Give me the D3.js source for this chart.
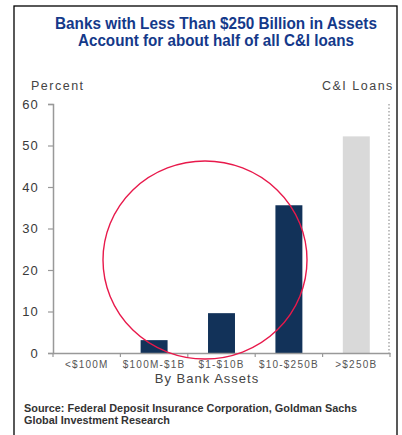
<html>
<script src="https://d3js.org/d3.v7.min.js"></script>
<style>
  body { margin: 0; background: white; }
  text { font-family: "Liberation Sans", Arial, sans-serif; }
</style>
<body>
<svg id="chart" width="402" height="435"></svg>
<script>
// chart data
var categories = ['<$100M', '$100M-$1B', '$1-$10B', '$10-$250B', '>$250B'];
var shares = [0, 3.1, 9.6, 35.6, 52.2];
var yTicks = [0, 10, 20, 30, 40, 50, 60];
var titleLines = ['Banks with Less Than $250 Billion in Assets', 'Account for about half of all C&I loans'];
var sourceLines = ['Source: Federal Deposit Insurance Corporation, Goldman Sachs', 'Global Investment Research'];

var svg = d3.select('#chart');

// clip everything to the inside of the frame
svg.append('clipPath').attr('id', 'frameclip')
  .append('rect').attr('x', 14).attr('y', 6).attr('width', 382).attr('height', 440);

// outer frame
svg.append('rect')
  .attr('x', 14).attr('y', 6)
  .attr('width', 383).attr('height', 440)
  .attr('fill', 'none').attr('stroke', 'black').attr('stroke-width', 1.3);

// title (condensed to the reference's width)
svg.selectAll('.title').data(titleLines).enter().append('text')
  .attr('class', 'title')
  .attr('x', 216).attr('y', function(d, i) { return 29 + i * 17; })
  .attr('text-anchor', 'middle')
  .attr('font-size', '16.5px').attr('font-weight', 'bold')
  .attr('fill', '#14398a')
  .attr('textLength', function(d, i) { return i == 0 ? 322 : 276; })
  .attr('lengthAdjust', 'spacingAndGlyphs')
  .text(function(d) { return d; });

// scales
var x = d3.scaleBand().domain(categories).range([53, 390]).paddingInner(0.6).paddingOuter(0.3);
var y = d3.scaleLinear().domain([0, 60]).range([353, 104]);

// bars
svg.selectAll('.bar').data(shares).enter().append('rect')
  .attr('class', 'bar')
  .attr('x', function(d, i) { return x(categories[i]); })
  .attr('y', function(d) { return y(d); })
  .attr('width', x.bandwidth())
  .attr('height', function(d) { return y(0) - y(d); })
  .attr('fill', function(d, i) { return i == 4 ? '#d9d9d9' : '#123259'; });

// dotted line at right edge
svg.append('line')
  .attr('x1', 389).attr('x2', 389)
  .attr('y1', y(60)).attr('y2', y(0))
  .attr('stroke', '#aaa').attr('stroke-width', 1.5)
  .attr('stroke-dasharray', '1.5,2');

// y axis
var yAxis = d3.axisLeft(y).tickValues(yTicks).tickSize(5).tickPadding(9);
var gy = svg.append('g').attr('transform', 'translate(53,0)').call(yAxis);
gy.select('.domain').attr('stroke', '#999').attr('stroke-width', 1.5);
gy.selectAll('.tick line').attr('stroke', '#999').attr('stroke-width', 1.2);
gy.selectAll('.tick text')
  .attr('font-size', '13px').attr('fill', '#3a3a3a')
  .attr('letter-spacing', '1.2px')
  .attr('font-family', '"Liberation Sans", Arial, sans-serif');

// x axis
var xEdges = d3.axisBottom(x).tickSize(0).tickPadding(8);
var gx = svg.append('g').attr('transform', 'translate(0,353)').call(xEdges);
gx.select('.domain').attr('stroke', '#999').attr('stroke-width', 1.5);
gx.selectAll('.tick text')
  .attr('font-size', '10px').attr('fill', '#555')
  .attr('letter-spacing', '1.2px')
  .attr('font-family', '"Liberation Sans", Arial, sans-serif');
// category separator ticks
var step = x.step();
gx.selectAll('.sep').data(d3.range(categories.length + 1)).enter().append('line')
  .attr('class', 'sep')
  .attr('x1', function(i) { return x(categories[0]) - x.paddingOuter() * step + i * step; })
  .attr('x2', function(i) { return x(categories[0]) - x.paddingOuter() * step + i * step; })
  .attr('y1', 0).attr('y2', 4)
  .attr('stroke', '#999').attr('stroke-width', 1.2);

// axis titles
svg.append('text').attr('x', 31).attr('y', 90)
  .attr('font-size', '12.5px').attr('fill', '#444')
  .attr('letter-spacing', '1.5px').text('Percent');
svg.append('text').attr('x', 322).attr('y', 90)
  .attr('clip-path', 'url(#frameclip)')
  .attr('font-size', '12.5px').attr('fill', '#444')
  .attr('letter-spacing', '1.5px').text('C&I Loans');
svg.append('text').attr('x', 207).attr('y', 383)
  .attr('text-anchor', 'middle')
  .attr('font-size', '13px').attr('fill', '#444')
  .attr('letter-spacing', '1px').text('By Bank Assets');

// source
svg.selectAll('.source').data(sourceLines).enter().append('text')
  .attr('class', 'source')
  .attr('x', 24).attr('y', function(d, i) { return 412 + i * 11.5; })
  .attr('font-size', '11px').attr('font-weight', 'bold')
  .attr('fill', '#333')
  .attr('textLength', function(d, i) { return i == 0 ? 333 : 146; })
  .attr('lengthAdjust', 'spacingAndGlyphs')
  .text(function(d) { return d; });

// red annotation circle
svg.append('ellipse')
  .attr('cx', 205).attr('cy', 260)
  .attr('rx', 102).attr('ry', 99)
  .attr('fill', 'none').attr('stroke', '#e8194b').attr('stroke-width', 1.4);
</script>
</body>
</html>
